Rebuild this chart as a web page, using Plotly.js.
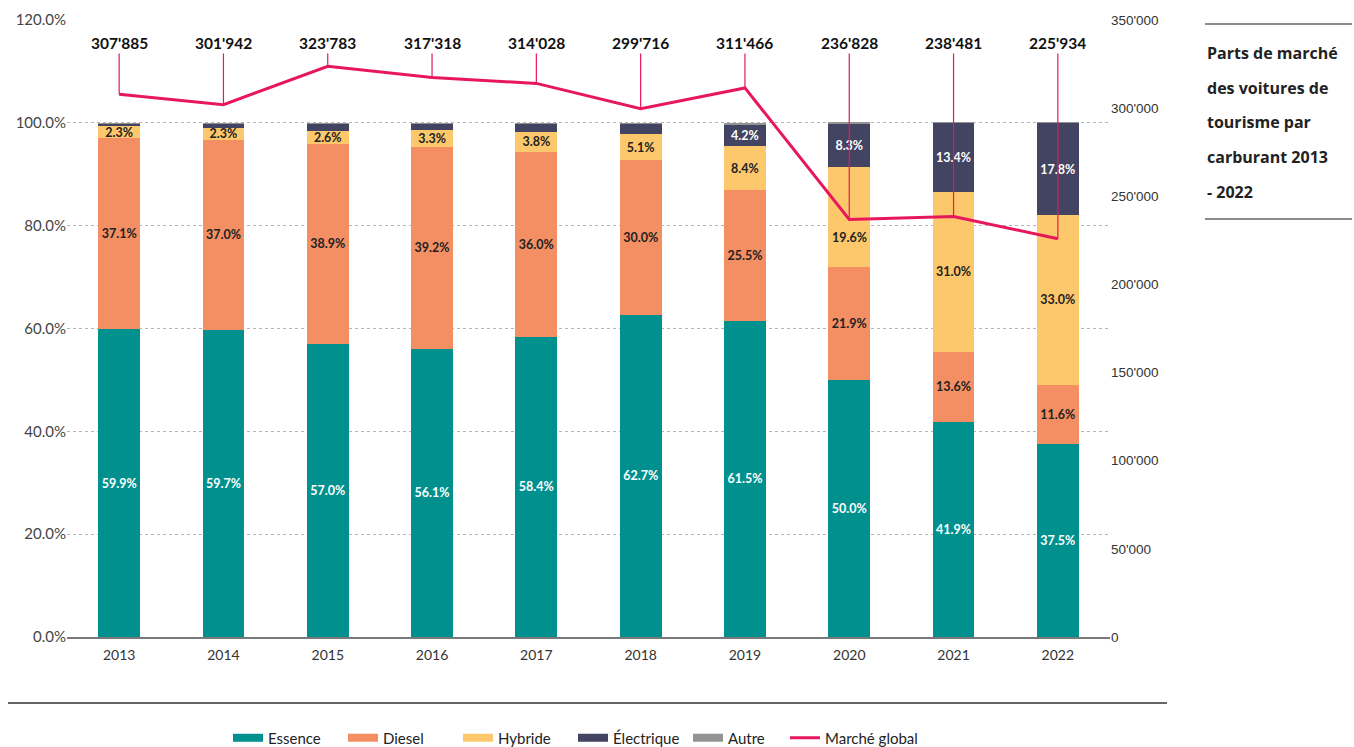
<!DOCTYPE html>
<html>
<head>
<meta charset="utf-8">
<script src="https://cdn.plot.ly/plotly-3.0.1.min.js"></script>
<style>html,body{margin:0;padding:0;background:#fff;}#chart{width:1354px;height:747px;}</style>
</head>
<body>
<div id="chart"></div>
<script>
const years = ['2013','2014','2015','2016','2017','2018','2019','2020','2021','2022'];
const essence = [59.9, 59.7, 57.0, 56.1, 58.4, 62.7, 61.5, 50.0, 41.9, 37.5];
const diesel = [37.1, 37.0, 38.9, 39.2, 36.0, 30.0, 25.5, 21.9, 13.6, 11.6];
const hybride = [2.3, 2.3, 2.6, 3.3, 3.8, 5.1, 8.4, 19.6, 31.0, 33.0];
const electrique = [0.4, 0.7, 1.2, 1.1, 1.6, 1.9, 4.2, 8.3, 13.4, 17.8];
const autre = [0.3, 0.3, 0.3, 0.3, 0.2, 0.3, 0.4, 0.3, 0.3, 0.3];
const marche = [307885, 301942, 323783, 317318, 314028, 299716, 311466, 236828, 238481, 225934];
const marcheLabels = ["307'885","301'942","323'783","317'318","314'028","299'716","311'466","236'828","238'481","225'934"];
const electriqueShown = [false,false,false,false,false,false,true,true,true,true];
const titleLines = ['Parts de marché','des voitures de','tourisme par','carburant 2013','- 2022'];

const colors = {essence:'#00918f', diesel:'#f48e63', hybride:'#fdc86b', electrique:'#424461', autre:'#939393', line:'#e8175d'};
const pct = v => v.toFixed(1) + '%';
const labelFont = (c) => ({family:'Lato, "Open Sans", sans-serif', size:12.5, color:c, weight:700});

// Hybride 2020 label is placed lower in its segment (below the line) -> drawn as annotation
const hybrideShown = hybride.map((v,i)=> i !== 7);

function barTrace(name, vals, color, textColor, mode) {
  let text;
  if (mode === 'none') text = vals.map(()=> '');
  else if (Array.isArray(mode)) text = vals.map((v,i)=> mode[i] ? pct(v) : '');
  else text = vals.map(pct);
  return {
    type:'bar', name:name, x:years, y:vals, showlegend:false, legendgroup:name,
    marker:{color:color, line:{width:0}},
    text: text,
    textposition:'inside', insidetextanchor:'middle', textangle:0, constraintext:'none',
    textfont: labelFont(textColor), hoverinfo:'skip', yaxis:'y'
  };
}
// legend-only entries drawn as wide swatches (no data marks)
function legendEntry(name, color) {
  return {type:'scatter', mode:'lines', name:name, legendgroup:name, x:[null], y:[null],
    line:{color:color, width:8}, hoverinfo:'skip', showlegend:true, legend:'legend'};
}

const traces = [
  barTrace('Essence', essence, colors.essence, '#ffffff'),
  barTrace('Diesel', diesel, colors.diesel, '#222222'),
  barTrace('Hybride', hybride, colors.hybride, '#222222', hybrideShown),
  barTrace('Électrique', electrique, colors.electrique, '#ffffff', electriqueShown),
  barTrace('Autre', autre, colors.autre, '#ffffff', 'none'),
  legendEntry('Essence', colors.essence),
  legendEntry('Diesel', colors.diesel),
  legendEntry('Hybride', colors.hybride),
  legendEntry('Électrique', colors.electrique),
  legendEntry('Autre', colors.autre),
  {type:'scatter', mode:'lines', name:'Marché global', x:years, y:marche, yaxis:'y2', legend:'legend2',
   line:{color:colors.line, width:3}, hoverinfo:'skip'}
];

const annotations = years.map((yr,i)=>({
  x: i, y: marche[i], xref:'x', yref:'y2',
  text: marcheLabels[i], showarrow:true, arrowhead:0, arrowwidth:1.2, arrowcolor:colors.line,
  axref:'x', ax: i, ayref:'y2', ay: 337000, standoff:0,
  font:{family:'Lato, "Open Sans", sans-serif', size:15.5, color:'#111', weight:700}
}));
annotations.push({
  x: 7, y: essence[7] + diesel[7] + hybride[7] * 0.2, xref:'x', yref:'y', yanchor:'bottom',
  text: pct(hybride[7]), showarrow:false, font: labelFont('#222222')
});
const titleY = [53, 88, 122, 157, 192];
titleLines.forEach((t,i)=>{
  annotations.push({
    text:t, xref:'paper', yref:'paper', x:(1205-67)/1043, y:(637-titleY[i])/617,
    xanchor:'left', yanchor:'middle', showarrow:false,
    font:{family:'"Open Sans", sans-serif', size:16, color:'#222', weight:700}
  });
});

const legendFont = {family:'Lato, sans-serif', size:15, color:'#222'};
const layout = {
  width:1354, height:747,
  margin:{l:67, r:244, t:20, b:110, autoexpand:false},
  paper_bgcolor:'#fff', plot_bgcolor:'#fff',
  barmode:'stack', bargap:0.6,
  separators:".'",
  showlegend:true,
  legend:{orientation:'h', x:(238-67-10)/1043, xanchor:'left', yref:'container', y:1-738/747, yanchor:'middle',
    traceorder:'normal', entrywidth:70, font:legendFont, bgcolor:'rgba(0,0,0,0)'},
  legend2:{orientation:'h', x:(795-67-10)/1043, xanchor:'left', yref:'container', y:1-738/747, yanchor:'middle',
    font:legendFont, bgcolor:'rgba(0,0,0,0)'},
  xaxis:{type:'category', range:[-0.5, 9.5], autorange:false, showgrid:false, showline:true, linecolor:'#7a7a7a', linewidth:2,
    ticks:'', ticklabelstandoff:4, tickfont:{family:'Lato, sans-serif', size:14, color:'#333'}, fixedrange:true},
  yaxis:{range:[0,120], autorange:false, dtick:20, tickformat:'.1f', ticksuffix:'%', showgrid:true,
    gridcolor:'#b5b5b5', griddash:'3px,3px', gridwidth:1, zeroline:false, showline:false,
    tickfont:{family:'Lato, sans-serif', size:15, color:'#444'}},
  yaxis2:{overlaying:'y', side:'right', range:[0,350000], autorange:false, dtick:50000, tickformat:',',
    showgrid:false, zeroline:false, showline:false,
    tickfont:{family:'"Liberation Sans", Arial, sans-serif', size:13.5, color:'#333'}},
  shapes:[
    {type:'line', xref:'paper', yref:'paper', x0:(1205-67)/1043, x1:(1352-67)/1043, y0:(637-24)/617, y1:(637-24)/617, line:{color:'#666', width:1.5}},
    {type:'line', xref:'paper', yref:'paper', x0:(1205-67)/1043, x1:(1352-67)/1043, y0:(637-219)/617, y1:(637-219)/617, line:{color:'#666', width:1.5}},
    {type:'line', xref:'paper', yref:'paper', x0:(8-67)/1043, x1:(1167-67)/1043, y0:(637-703)/617, y1:(637-703)/617, line:{color:'#666', width:2}}
  ],
  annotations: annotations
};

Plotly.newPlot('chart', traces, layout, {displayModeBar:false, staticPlot:true});
</script>
</body>
</html>
